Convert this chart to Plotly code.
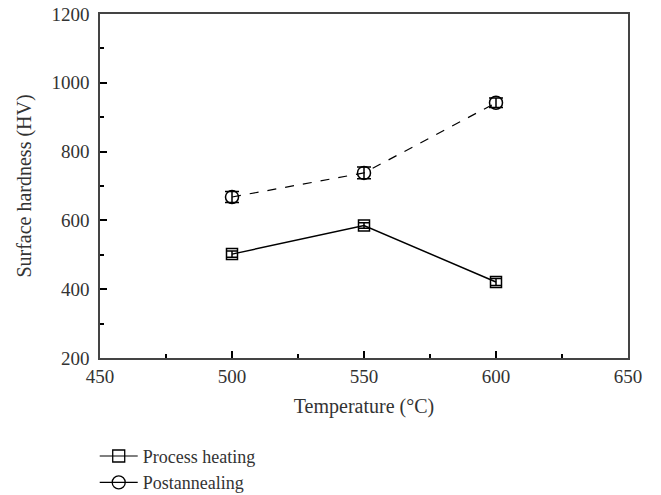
import plotly.graph_objects as go

temperature = [500, 550, 600]
process_heating = [502, 585, 421]
process_heating_err = [9, 8, 10]
postannealing = [668, 738, 942]
postannealing_err = [16, 17, 14]

FONT = "Liberation Serif"
TXT = "#333333"
FS = 19

fig = go.Figure()
fig.add_trace(go.Scatter(
    x=temperature, y=process_heating, name="Process heating",
    mode="lines+markers", showlegend=False,
    line=dict(color="black", width=1.5),
    marker=dict(symbol="square-open", size=11, color="black", line=dict(width=1.5)),
    error_y=dict(type="data", array=process_heating_err, visible=True,
                 color="black", thickness=1.5, width=6),
))
fig.add_trace(go.Scatter(
    x=temperature, y=postannealing, name="Postannealing",
    mode="lines+markers", showlegend=False,
    line=dict(color="black", width=1.2, dash="dash"),
    marker=dict(symbol="circle-open", size=13, color="black", line=dict(width=1.5)),
    error_y=dict(type="data", array=postannealing_err, visible=True,
                 color="black", thickness=1.5, width=7),
))
# legend-only entries (solid stubs, no error bars) as in the reference key
fig.add_trace(go.Scatter(
    x=[None], y=[None], name="Process heating", mode="lines+markers",
    line=dict(color="black", width=1.2),
    marker=dict(symbol="square-open", size=12, color="black", line=dict(width=1.3)),
))
fig.add_trace(go.Scatter(
    x=[None], y=[None], name="Postannealing", mode="lines+markers",
    line=dict(color="black", width=1.2),
    marker=dict(symbol="circle-open", size=13, color="black", line=dict(width=1.3)),
))

fig.update_layout(
    width=661, height=495,
    margin=dict(l=100, r=33, t=14, b=137, autoexpand=False),
    plot_bgcolor="white", paper_bgcolor="white",
    font=dict(family=FONT, size=FS, color=TXT),
    showlegend=True,
    legend=dict(x=-0.01, y=-0.232, xanchor="left", yanchor="top",
                font=dict(family=FONT, size=18, color=TXT),
                bgcolor="rgba(0,0,0,0)", itemwidth=38, tracegroupgap=0),
)
fig.update_xaxes(
    range=[450, 650], tickvals=[450, 500, 550, 600, 650],
    tickfont=dict(family=FONT, size=FS, color=TXT), automargin=False,
    ticks="inside", ticklen=7, tickwidth=1.5, tickcolor="black",
    minor=dict(tickvals=[475, 525, 575, 625], ticks="inside", ticklen=4,
               tickwidth=1.5, tickcolor="black"),
    showline=True, linecolor="#444444", linewidth=1.5, mirror=True,
    showgrid=False, zeroline=False,
    title=dict(text="Temperature (°C)", standoff=13,
               font=dict(family=FONT, size=20, color=TXT)),
)
fig.update_yaxes(
    range=[200, 1200], tickvals=[200, 400, 600, 800, 1000, 1200],
    tickfont=dict(family=FONT, size=FS, color=TXT), automargin=False,
    ticklabelstandoff=5,
    ticks="inside", ticklen=7, tickwidth=1.5, tickcolor="black",
    minor=dict(tickvals=[300, 500, 700, 900, 1100], ticks="inside", ticklen=4,
               tickwidth=1.5, tickcolor="black"),
    showline=True, linecolor="#444444", linewidth=1.5, mirror=True,
    showgrid=False, zeroline=False,
    title=dict(text="Surface hardness (HV)", standoff=14,
               font=dict(family=FONT, size=20, color=TXT)),
)

fig.write_html("out.html", config={"displayModeBar": False},
               post_script="document.body.style.margin='0';")
